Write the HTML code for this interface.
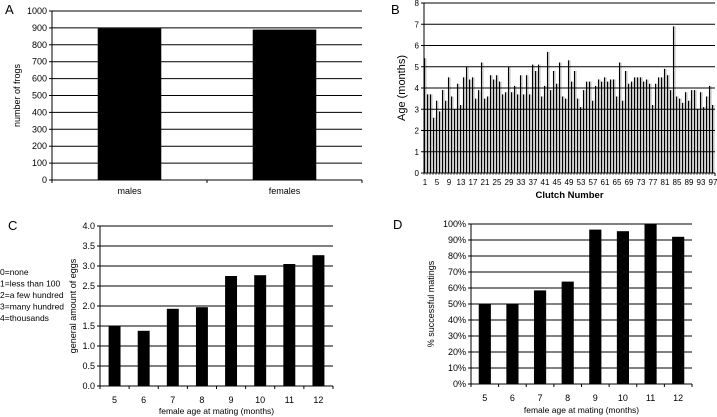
<!DOCTYPE html>
<html><head><meta charset="utf-8"><style>
body{margin:0;background:#fff;}
svg{display:block;font-family:"Liberation Sans",Arial,sans-serif;}
text{fill:#000;}
</style></head><body>
<svg id="s" width="717" height="417">
<text x="5" y="14" font-size="13">A</text>
<text x="391" y="14" font-size="13">B</text>
<text x="8" y="230" font-size="13">C</text>
<text x="393" y="229" font-size="13">D</text>
<g font-size="8.5">
<text x="0" y="275">0=none</text>
<text x="0" y="286.5">1=less than 100</text>
<text x="0" y="298">2=a few hundred</text>
<text x="0" y="309.5">3=many hundred</text>
<text x="0" y="321">4=thousands</text>
</g>
</svg>
<script>
const aCats=["males","females"];
const aVals=[898,890];
const aTicks=[0,100,200,300,400,500,600,700,800,900,1000];
const bVals=[5.4,3.7,3.7,2.6,3.4,2.9,3.9,3.4,4.5,3.6,3.0,4.2,3.2,4.5,5.0,4.4,4.5,3.5,3.9,5.2,3.5,3.6,4.6,4.4,4.6,4.3,3.7,3.8,5.0,3.8,4.1,3.7,4.6,3.7,4.6,3.7,5.1,4.8,5.1,3.6,4.1,5.7,3.9,4.8,4.2,5.2,3.6,3.5,5.3,4.3,4.8,3.5,3.1,3.9,4.3,4.3,3.4,4.1,4.4,4.3,4.5,4.3,4.4,4.4,3.6,5.2,3.4,4.8,4.2,4.3,4.5,4.5,4.5,4.3,4.4,4.2,3.2,4.2,4.5,4.5,4.9,4.6,3.9,6.9,3.6,3.5,3.3,3.8,3.4,3.9,3.9,3.0,3.8,3.1,3.6,4.1,3.2];
const bTicks=[0,1,2,3,4,5,6,7,8];
const ageCats=["5","6","7","8","9","10","11","12"];
const cVals=[1.5,1.38,1.93,1.97,2.75,2.77,3.05,3.27];
const cTicks=[0,0.5,1,1.5,2,2.5,3,3.5,4];
const dVals=[50,50,58.5,64,96.5,95.5,100,92];
const dTicks=[0,10,20,30,40,50,60,70,80,90,100];

const NS="http://www.w3.org/2000/svg";
const svg=document.getElementById('s');
function mk(tag,attrs,parent){const e=document.createElementNS(NS,tag);for(const k in attrs)e.setAttribute(k,attrs[k]);(parent||svg).appendChild(e);return e;}

function panel(p){
  const g=mk('g',{});
  
  
  const ys=v=>p.y0-(v-p.min)/(p.max-p.min)*(p.y0-p.y1);
  const band=(p.x1-p.x0)/p.vals.length;
  function grid(){
    p.ticks.forEach(t=>{
      const y=ys(t);
      if(t>p.min){const l=mk('line',{x1:p.x0,x2:p.x1,y1:y,y2:y,stroke:'#000','stroke-width':1},g);
        
        }
      mk('line',{x1:p.x0-3,x2:p.x0,y1:y,y2:y,stroke:'#000'},g);
      const tx=mk('text',{x:p.x0-5,y:y+3,'font-size':p.fs,'text-anchor':'end'},g);
      tx.textContent=p.fmt?p.fmt(t):String(t);
      
      
    });
  }
  if(!p.thin) grid();
  p.vals.forEach((v,i)=>{
    const cx=p.x0+band*(i+0.5);
    if(p.thin){
      const r=mk('rect',{x:p.x0+band*i+0.5,y:ys(v),width:band*0.7,height:ys(p.min)-ys(v),fill:'#c8c8c8'},g);
      
      
      mk('line',{x1:p.x0+band*i+0.5,x2:p.x0+band*i+0.5,y1:ys(v),y2:p.y0,stroke:'#000','stroke-width':1.1},g);
    } else {
      const w=band*p.bw;
      const r=mk('rect',{x:cx-w/2,y:ys(v),width:w,height:ys(p.min)-ys(v),fill:'#000'},g);
      
      
    }
  });
  if(p.thin) grid();
  mk('line',{x1:p.x0,x2:p.x0,y1:p.y1,y2:p.y0,stroke:'#000'},g);
  mk('line',{x1:p.x0,x2:p.x1,y1:p.y0,y2:p.y0,stroke:'#000'},g);
  p.vals.forEach((v,i)=>{
    const cx=p.x0+band*(i+0.5);
    if(!p.thin){mk('line',{x1:p.x0+band*i,x2:p.x0+band*i,y1:p.y0,y2:p.y0+3,stroke:'#000'},g);}
    else mk('line',{x1:p.x0+band*i,x2:p.x0+band*i,y1:p.y0,y2:p.y0+2,stroke:'#000','stroke-width':0.6},g);
    if(p.thin && i%4!==0) return;
    const tx=mk('text',{x:p.thin?p.x0+band*i+1:cx,y:p.y0+p.xly,'font-size':p.fs,'text-anchor':'middle'},g);
    tx.textContent=p.thin?String(i+1):p.cats[i];
    
    
  });
  mk('line',{x1:p.x1,x2:p.x1,y1:p.y0,y2:p.y0+3,stroke:'#000'},g);
  const xt=mk('text',{x:(p.x0+p.x1)/2,y:p.xty,'font-size':p.xfs||p.fs,'text-anchor':'middle','font-weight':p.thin?'bold':'normal'},g);
  xt.textContent=p.xtitle;
  
  
  const yt=mk('text',{x:0,y:0,'font-size':p.yfs||p.fs,'text-anchor':'middle',transform:`translate(${p.ytx},${(p.y0+p.y1)/2}) rotate(-90)`},g);
  yt.textContent=p.ytitle;
  
  
}
panel({name:'panel-a-chart',x0:52,x1:362,y0:180,y1:11,min:0,max:1000,vals:aVals,cats:aCats,ticks:aTicks,bw:0.41,fs:9,xly:14,xtitle:'',xty:0,ytitle:'number of frogs',ytx:20});
panel({name:'panel-b-chart',x0:424,x1:715,y0:173,y1:3,min:0,max:8,vals:bVals,cats:[],ticks:bTicks,thin:true,fs:8,xly:12,xtitle:'Clutch Number',xty:198,xfs:9.5,ytitle:'Age (months)',ytx:405,yfs:11});
panel({name:'panel-c-chart',x0:100,x1:333,y0:386,y1:226,min:0,max:4,vals:cVals,cats:ageCats,ticks:cTicks,bw:0.41,fs:9,xly:17,xtitle:'female age at mating (months)',xty:414,xfs:8.5,ytitle:'general amount of eggs',ytx:76,fmt:t=>t.toFixed(1)});
panel({name:'panel-d-chart',x0:471,x1:692,y0:384,y1:224,min:0,max:100,vals:dVals,cats:ageCats,ticks:dTicks,bw:0.44,fs:9,xly:17,xtitle:'female age at mating (months)',xty:413,xfs:8.5,ytitle:'% successful matings',ytx:434,fmt:t=>t+'%'});
</script>
</body></html>
